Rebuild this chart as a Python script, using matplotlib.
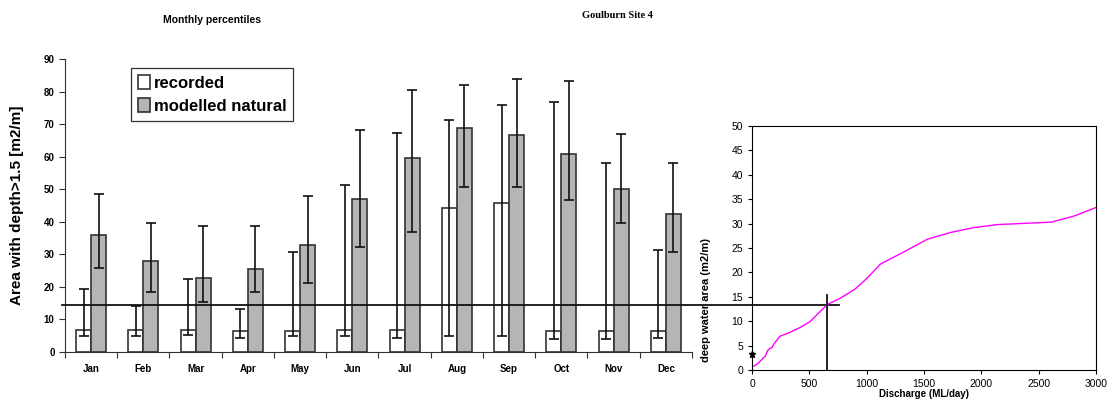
import matplotlib
matplotlib.use('Agg')
import matplotlib.pyplot as plt
import matplotlib.transforms as mtransforms
import numpy as np

plt.rcParams['font.family'] = ['Liberation Sans', 'DejaVu Sans']

# monthly percentiles (median with lower / upper percentile)
months = ['Jan', 'Feb', 'Mar', 'Apr', 'May', 'Jun',
          'Jul', 'Aug', 'Sep', 'Oct', 'Nov', 'Dec']
rec_med = [6.9, 6.9, 6.9, 6.5, 6.5, 6.9, 6.9, 44.1, 45.9, 6.5, 6.5, 6.5]
rec_low = [4.8, 4.8, 5.1, 4.3, 4.9, 4.8, 4.3, 4.8, 4.8, 3.9, 3.9, 4.3]
rec_high = [19.2, 14.1, 22.5, 13.3, 30.6, 51.3, 67.4, 71.3, 76.0, 76.8, 58.2, 31.4]
nat_med = [35.8, 27.8, 22.6, 25.5, 32.8, 47.0, 59.5, 68.7, 66.6, 60.7, 50.1, 42.5]
nat_low = [25.9, 18.3, 15.4, 18.3, 21.2, 32.2, 36.9, 50.6, 50.6, 46.7, 39.5, 30.6]
nat_high = [48.4, 39.6, 38.8, 38.8, 48.0, 68.2, 80.6, 82.0, 84.0, 83.1, 67.0, 58.2]
threshold_area = 14.5

# discharge vs deep water area relationship
discharge = [0, 23, 44, 67, 96, 117, 137, 155, 175, 196, 243, 330, 418, 506,
             655, 769, 900, 1003, 1120, 1325, 1529, 1734, 1939, 2143, 2611,
             2816, 3000]
deep_area = [0.7, 0.9, 1.2, 1.7, 2.4, 2.9, 4.0, 4.4, 4.6, 5.5, 6.9, 7.7, 8.7,
             9.9, 13.4, 14.7, 16.6, 18.8, 21.7, 24.2, 26.8, 28.2, 29.2, 29.8,
             30.3, 31.6, 33.3]
marker_pt = (0, 3.2)
cross_q = 655
cross_area = 13.4

fig = plt.figure(figsize=(11.07, 4.04), dpi=100)

# ---- left chart: monthly percentiles ----
ax = fig.add_axes([65/1107, 1-352/404, 627/1107, 293/404])
x = np.arange(len(months))
w = 0.287
edge = '#333333'
rec = np.array(rec_med)
nat = np.array(nat_med)
ax.bar(x - w/2, rec, w, color='white', edgecolor=edge, linewidth=1.2,
       label='recorded', zorder=2)
ax.bar(x + w/2, nat, w, color='#b5b5b5', edgecolor=edge, linewidth=1.2,
       label='modelled natural', zorder=2)
ax.errorbar(x - w/2, rec, yerr=[rec - np.array(rec_low), np.array(rec_high) - rec],
            fmt='none', ecolor='#111111', elinewidth=1.2, capsize=3.5,
            capthick=1.2, zorder=3)
ax.errorbar(x + w/2, nat, yerr=[nat - np.array(nat_low), np.array(nat_high) - nat],
            fmt='none', ecolor='#111111', elinewidth=1.2, capsize=3.5,
            capthick=1.2, zorder=3)

ax.set_xlim(-0.5, 11.5)
ax.set_ylim(0, 90)
ax.set_yticks(np.arange(0, 91, 10))
ax.set_xticks(np.arange(-0.5, 12, 1))
ax.set_xticklabels([])
ax.set_xticks(x, minor=True)
ax.set_xticklabels(months, minor=True, fontsize=7, fontweight='bold')
ax.tick_params(axis='x', which='minor', length=0, pad=9)
ax.tick_params(axis='x', which='major', length=4, direction='out', color=edge)
ax.tick_params(axis='y', length=4, labelsize=7, color=edge)
for lab in ax.get_yticklabels():
    lab.set_fontweight('bold')
ax.spines['right'].set_visible(False)
ax.spines['top'].set_visible(False)
ax.spines['left'].set_color(edge)
ax.spines['bottom'].set_color(edge)
ax.set_ylabel('Area with depth>1.5 [m2/m]', fontsize=11, fontweight='bold',
              labelpad=14)
leg = ax.legend(loc='upper left', bbox_to_anchor=(0.105, 0.968),
                prop={'weight': 'bold', 'size': 12}, fancybox=False,
                edgecolor='black', handlelength=0.75, handleheight=0.9,
                handletextpad=0.25, labelspacing=0.45, borderpad=0.4,
                borderaxespad=0)
leg.get_frame().set_linewidth(0.9)

# threshold line running across into the rating curve
trans = mtransforms.blended_transform_factory(ax.transAxes, ax.transData)
ax.plot([-0.005, 1.234], [threshold_area, threshold_area], color='#111111',
        lw=1.3, transform=trans, clip_on=False, zorder=4)

fig.text(212/1107, 1-20/404, 'Monthly percentiles', fontsize=7.5,
         fontweight='bold', ha='center', va='center')
fig.text(617/1107, 1-15/404, 'Goulburn Site 4', fontsize=7.5,
         fontweight='bold', ha='center', va='center',
         family=['Liberation Serif', 'DejaVu Serif'])

# ---- right chart: rating curve ----
ax2 = fig.add_axes([752/1107, 1-370/404, 344/1107, 244/404])
ax2.patch.set_alpha(0)
ax2.plot(discharge, deep_area, color='#ff00ff', lw=1.0)
ax2.plot([marker_pt[0]], [marker_pt[1]], marker='*', color='black',
         markersize=5, clip_on=False)
ax2.plot([cross_q, cross_q], [0, 15.4], color='#111111', lw=1.3)
ax2.set_xlim(0, 3000)
ax2.set_ylim(0, 50)
ax2.set_xticks(np.arange(0, 3001, 500))
ax2.set_yticks(np.arange(0, 51, 5))
ax2.tick_params(labelsize=7.5, length=3)
for s in ax2.spines.values():
    s.set_linewidth(0.8)
ax2.set_xlabel('Discharge (ML/day)', fontsize=7, fontweight='bold', labelpad=0)
ax2.set_ylabel('deep water area (m2/m)', fontsize=8, fontweight='bold')
ax2.yaxis.set_label_coords(-0.118, 0.285)

fig.savefig('out.png', dpi=100)
